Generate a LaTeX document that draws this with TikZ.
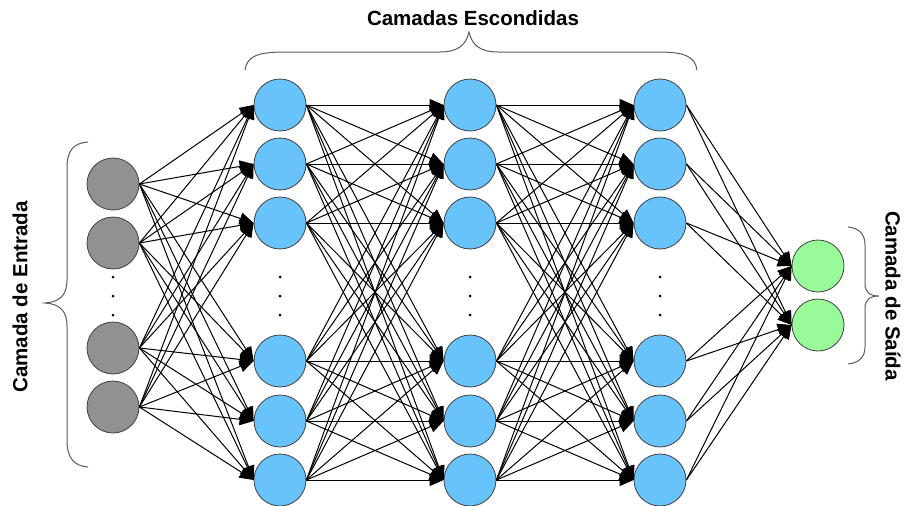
\documentclass[tikz,border=0pt]{standalone}
\usepackage{fontspec}
\setmainfont{Liberation Sans}
\usetikzlibrary{arrows.meta}
\definecolor{ingray}{RGB}{145,145,145}
\definecolor{hidblue}{RGB}{104,195,250}
\definecolor{outgreen}{RGB}{153,250,153}
\definecolor{rimgray}{RGB}{64,64,64}
\definecolor{bracegray}{RGB}{90,90,90}
\tikzset{
  neuron/.style={circle, draw=rimgray, line width=0.8pt, minimum size=52pt, inner sep=0pt},
  inneuron/.style={neuron, fill=ingray},
  hidneuron/.style={neuron, fill=hidblue},
  outneuron/.style={neuron, fill=outgreen},
  edge/.style={draw=black, line width=1pt, -{Triangle[length=14pt,width=12pt]}},
  brace/.style={draw=bracegray, line width=1pt},
  dotmark/.style={circle, fill=black, inner sep=0pt, minimum size=3pt},
  layerlabel/.style={font=\fontsize{20.5}{24}\selectfont\bfseries, inner sep=0pt}
}
\begin{document}
\begin{tikzpicture}[x=1pt,y=-1pt]
\useasboundingbox (0,0) rectangle (906,506);

% input layer
\foreach \n/\y in {1/184,2/243,3/348,4/407}
  \node[inneuron] (i\n) at (113,\y) {};
% three hidden layers
\foreach \L/\x in {a/280,b/470,c/660}
  \foreach \n/\y in {1/105,2/164,3/223,4/361,5/421,6/480}
    \node[hidneuron] (\L\n) at (\x,\y) {};
% output layer
\node[outneuron] (o1) at (818,266) {};
\node[outneuron] (o2) at (818,325) {};

% vertical ellipsis in each column
\foreach \L/\x in {p/113,q/280,r/470,s/660}
  \foreach \k/\y in {1/277,2/296,3/315}
    \node[dotmark] (\L\k) at (\x,\y) {};

% fully connected weights
\foreach \s in {1,...,4}
  \foreach \t in {1,...,6}
    \draw[edge] (i\s.east) -- (a\t.west);
\foreach \s in {1,...,6}
  \foreach \t in {1,...,6} {
    \draw[edge] (a\s.east) -- (b\t.west);
    \draw[edge] (b\s.east) -- (c\t.west);
  }
\foreach \s in {1,...,6}
  \foreach \t in {1,2}
    \draw[edge] (c\s.east) -- (o\t.west);

% braces
\draw[brace] (245,70) .. controls (247,56) and (258,52) .. (285,52) -- (440,52)
  .. controls (458,52) and (466,45) .. (469,32)
  .. controls (472,45) and (480,52) .. (498,52) -- (657,52)
  .. controls (684,52) and (695,56) .. (697,70);
\draw[brace] (88,142) .. controls (74,143) and (67,150) .. (67,168) -- (67,280)
  .. controls (67,295) and (60,302) .. (45,303)
  .. controls (60,304) and (67,311) .. (67,326) -- (67,440)
  .. controls (67,458) and (74,466) .. (88,467);
\draw[brace] (848,227) .. controls (858,228) and (865,233) .. (865,245) -- (865,284)
  .. controls (865,292) and (870,296) .. (879,296)
  .. controls (870,296) and (865,300) .. (865,308) -- (865,347)
  .. controls (865,358) and (858,363) .. (848,364);

% layer labels
\node[layerlabel] (thid) at (473,18) {Camadas Escondidas};
\node[layerlabel, rotate=90] (tin) at (20,297) {Camada de Entrada};
\node[layerlabel, rotate=-90] (tout) at (893,296) {Camada de Saída};
\end{tikzpicture}
\end{document}
